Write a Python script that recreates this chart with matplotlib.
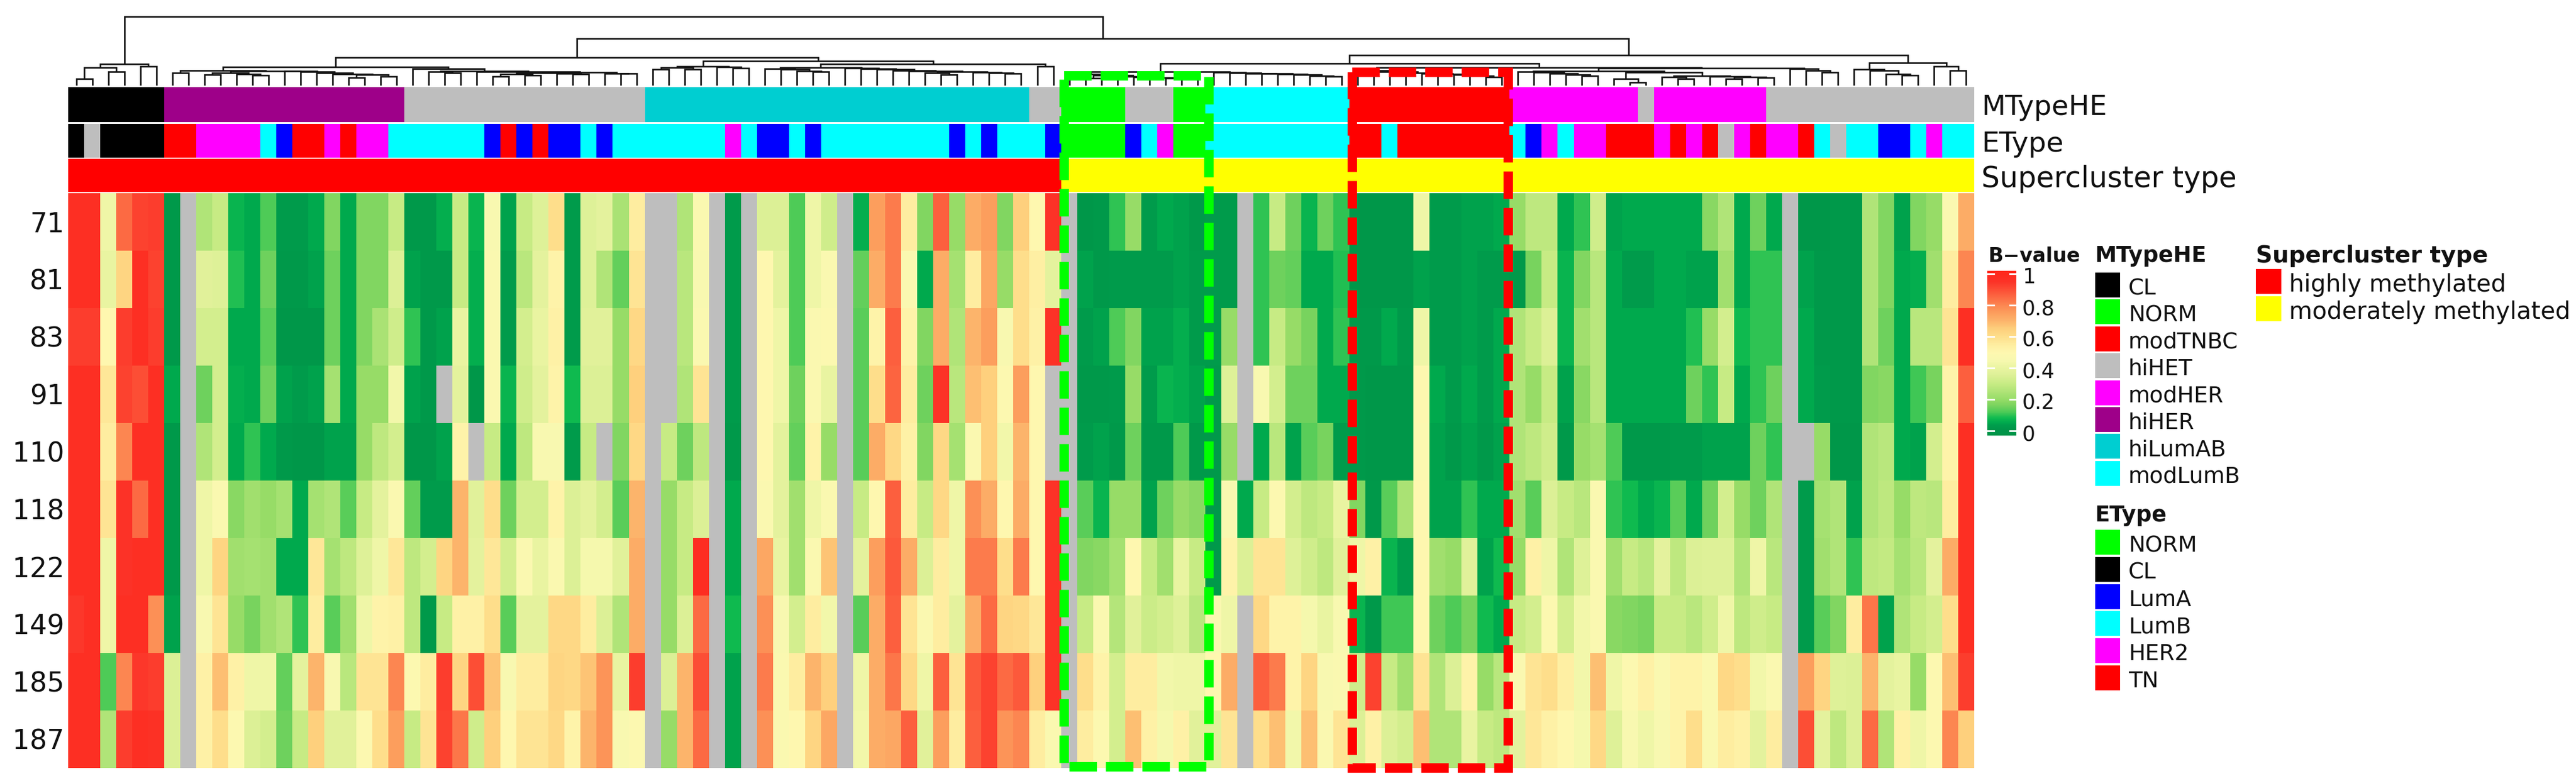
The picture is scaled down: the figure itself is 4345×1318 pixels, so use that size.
import numpy as np
import matplotlib
matplotlib.use('Agg')
import matplotlib.pyplot as plt
from matplotlib.colors import LinearSegmentedColormap, ListedColormap
from matplotlib.patches import Rectangle

W, H = 4345, 1318
G = np.nan

row_labels = ['71', '81', '83', '91', '110', '118', '122', '149', '185', '187']

r71 = [.97,.97,.42,.85,.92,.93,.02,G,.25,.3,
       .07,.05,.12,.03,.03,.05,.17,.05,.17,.17,
       .3,.02,.02,.06,.3,.07,.45,.04,.3,.36,
       .6,.03,.36,.38,.24,.55,G,G,.25,.47,
       G,.03,G,.35,.35,.12,.42,.32,G,.06,
       .75,.82,.55,.17,.87,.2,.72,.75,.17,.65,
       .5,.95,G,.01,.02,.1,.2,.03,.05,.04,
       .02,.03,.03,G,.1,.3,.15,.07,.15,.1,
       .01,.01,.01,.01,.42,.03,.03,.04,.04,.05,
       .2,.28,.28,.05,.1,.32,.04,.05,.05,.05,
       .05,.05,.18,.25,.05,.15,.05,G,.01,.01,
       .02,.02,.25,.17,.04,.17,.2,.47,.72]
r81 = [.97,.97,.4,.63,.97,.92,.02,G,.37,.36,
       .09,.05,.15,.02,.02,.04,.15,.05,.17,.17,
       .35,.04,.02,.02,.3,.06,.47,.03,.27,.38,
       .52,.03,.36,.25,.14,.58,G,G,.27,.45,
       G,.03,G,.5,.38,.12,.42,.47,G,.14,
       .72,.82,.47,.05,.72,.23,.55,.73,.2,.6,
       .54,.38,G,.04,.02,.03,.03,.03,.03,.04,
       .03,.03,.03,G,.1,.15,.14,.05,.05,.09,
       .01,.01,.01,.01,.04,.03,.03,.04,.03,.03,
       .02,.16,.3,.07,.17,.27,.05,.03,.03,.05,
       .05,.04,.04,.22,.05,.1,.1,G,.04,.02,
       .02,.02,.25,.17,.05,.06,.22,.55,.8]
r83 = [.93,.93,.5,.93,.97,.93,.02,G,.33,.33,
       .05,.05,.13,.01,.01,.01,.15,.05,.17,.24,
       .32,.1,.02,.04,.4,.06,.47,.03,.33,.4,
       .53,.03,.37,.37,.2,.62,G,G,.27,.47,
       G,.03,G,.5,.42,.12,.47,.48,G,.13,
       .52,.87,.52,.17,.72,.25,.7,.75,.45,.6,
       .53,.95,G,.03,.04,.12,.17,.04,.04,.06,
       .03,.03,.2,G,.1,.3,.2,.16,.05,.1,
       .02,.02,.05,.02,.42,.03,.03,.04,.03,.05,
       .25,.3,.35,.07,.22,.27,.05,.05,.05,.05,
       .05,.09,.2,.33,.08,.1,.1,G,.05,.02,
       .02,.02,.25,.15,.05,.27,.27,.58,.97]
r91 = [.97,.97,.57,.92,.9,.97,.05,G,.15,.33,
       .06,.05,.15,.04,.03,.04,.23,.05,.2,.2,
       .43,.04,.02,G,.38,.01,.47,.07,.32,.38,
       .52,.08,.35,.35,.2,.65,G,G,.25,.58,
       G,.03,G,.5,.42,.15,.47,.4,G,.13,
       .6,.86,.55,.15,.95,.27,.68,.65,.48,.75,
       .5,G,G,.02,.02,.03,.2,.03,.07,.06,
       .04,.02,.36,G,.45,.33,.15,.15,.05,.05,
       .02,.01,.01,.01,.5,.05,.03,.05,.03,.05,
       .25,.2,.3,.04,.18,.27,.05,.05,.05,.05,
       .05,.15,.1,.3,.05,.1,.15,G,.05,.03,
       .02,.02,.17,.18,.05,.11,.16,.52,.87]
r110 = [.97,.97,.55,.8,.97,.97,.02,G,.25,.33,
        .05,.1,.05,.02,.01,.01,.04,.04,.2,.28,
        .33,.01,.01,.04,.52,G,.3,.05,.28,.45,
        .45,.03,.3,G,.17,.62,G,.3,.15,.28,
        G,.02,G,.5,.38,.14,.52,.2,G,.13,
        .72,.62,.53,.17,.62,.23,.47,.65,.43,.7,
        .5,G,G,.03,.04,.02,.15,.02,.02,.12,
        .02,.02,.2,G,.05,.27,.04,.13,.16,.03,
        .02,.01,.01,.01,.48,.04,.02,.04,.02,.04,
        .25,.28,.32,.02,.2,.23,.12,.02,.02,.02,
        .03,.03,.04,.04,.04,.15,.1,G,G,.2,
        .01,.01,.25,.27,.05,.04,.33,.52,.97]
r118 = [.97,.97,.58,.95,.85,.97,.02,G,.42,.47,
        .18,.22,.2,.23,.05,.23,.25,.13,.3,.38,
        .47,.14,.03,.03,.7,.37,.6,.15,.33,.33,
        .52,.35,.38,.33,.13,.7,G,.2,.3,.35,
        G,.05,G,.47,.38,.22,.42,.47,G,.3,
        .5,.87,.55,.3,.62,.42,.78,.72,.5,.72,
        .5,.95,G,.13,.07,.2,.2,.04,.15,.2,
        .18,.02,.45,.05,.3,.48,.33,.28,.3,.4,
        .17,.02,.13,.24,.5,.04,.04,.1,.05,.05,
        .22,.13,.35,.3,.27,.47,.1,.08,.05,.07,
        .13,.05,.15,.33,.2,.15,.25,G,.03,.23,
        .25,.04,.25,.28,.2,.28,.27,.55,.97]
r122 = [.97,.97,.42,.95,.97,.97,.02,G,.42,.63,
        .22,.23,.22,.05,.05,.57,.23,.28,.36,.42,
        .57,.28,.33,.63,.7,.38,.57,.33,.47,.4,
        .47,.35,.44,.44,.37,.72,G,.2,.3,.98,
        G,.05,G,.73,.4,.22,.47,.67,G,.38,
        .75,.88,.72,.35,.55,.42,.82,.82,.6,.82,
        .5,.95,G,.17,.18,.23,.5,.3,.22,.4,
        .3,.02,.52,.35,.58,.58,.36,.32,.28,.37,
        .42,.53,.07,.03,.5,.22,.2,.37,.04,.08,
        .2,.53,.42,.25,.36,.47,.22,.3,.27,.38,
        .28,.35,.36,.36,.25,.42,.27,G,.03,.22,
        .25,.1,.28,.29,.23,.27,.38,.72,.97]
r149 = [.94,.97,.42,.97,.97,.78,.04,G,.45,.58,
        .2,.16,.22,.25,.1,.55,.13,.22,.42,.52,
        .53,.28,.02,.3,.53,.53,.6,.13,.38,.38,
        .62,.62,.55,.35,.25,.72,G,.2,.35,.85,
        G,.08,G,.78,.45,.33,.55,.43,G,.13,
        .72,.87,.58,.47,.55,.38,.72,.85,.63,.62,
        .57,.95,G,.3,.47,.26,.37,.31,.33,.36,
        .27,.47,.42,G,.62,.52,.52,.44,.4,.45,
        .07,.02,.11,.11,.5,.15,.12,.16,.08,.05,
        .3,.33,.48,.33,.43,.47,.18,.17,.16,.3,
        .3,.27,.32,.42,.28,.32,.3,G,.03,.13,
        .17,.55,.83,.04,.25,.3,.33,.6,.97]
r185 = [.97,.97,.12,.8,.94,.93,.35,G,.53,.68,
        .53,.42,.42,.14,.38,.7,.45,.27,.58,.58,
        .8,.48,.55,.93,.63,.9,.67,.45,.55,.55,
        .63,.62,.67,.77,.4,.93,G,.35,.7,.9,
        G,.04,G,.82,.47,.55,.7,.65,G,.42,
        .72,.83,.62,.42,.87,.58,.88,.92,.85,.88,
        .65,.95,G,.6,.52,.33,.55,.55,.43,.42,
        .42,.5,.72,G,.87,.82,.52,.63,.45,.47,
        .32,.92,.3,.22,.58,.25,.35,.52,.2,.27,
        .47,.58,.6,.54,.43,.68,.42,.48,.53,.47,
        .52,.52,.47,.62,.6,.43,.47,G,.75,.63,
        .36,.35,.7,.38,.4,.2,.48,.68,.93]
r187 = [.97,.97,.25,.93,.97,.96,.35,G,.53,.6,
        .48,.35,.33,.15,.3,.65,.37,.37,.48,.6,
        .75,.3,.58,.92,.83,.32,.65,.5,.58,.58,
        .62,.52,.7,.77,.45,.48,G,.2,.7,.85,
        G,.04,G,.78,.47,.5,.63,.73,G,.43,
        .72,.73,.87,.37,.75,.55,.87,.92,.77,.8,
        .55,.47,G,.55,.48,.33,.68,.53,.44,.53,
        .37,.37,.58,G,.6,.68,.43,.68,.47,.58,
        .35,.53,.35,.33,.68,.25,.25,.4,.3,.28,
        .38,.57,.53,.5,.44,.62,.36,.45,.42,.45,
        .52,.6,.47,.55,.53,.38,.55,G,.9,.38,
        .28,.35,.85,.25,.53,.42,.48,.8,.65]

# annotation tracks, run length encoded as (label, number of columns)
mtype_runs = [('CL',6),('hiHER',15),('hiHET',15),('hiLumAB',24),('hiHET',2),('NORM',4),
              ('hiHET',3),('NORM',2),('modLumB',9),('modTNBC',10),('modHER',8),('hiHET',1),
              ('modHER',7),('hiHET',13)]
etype_runs = [('CL',1),('grey',1),('CL',4),('TN',2),('HER2',4),('LumB',1),('LumA',1),('TN',2),
              ('HER2',1),('TN',1),('HER2',2),('LumB',6),('LumA',1),('TN',1),('LumA',1),('TN',1),
              ('LumA',2),('LumB',1),('LumA',1),('LumB',7),('HER2',1),('LumB',1),('LumA',2),
              ('LumB',1),('LumA',1),('LumB',8),('LumA',1),('LumB',1),('LumA',1),('LumB',3),
              ('LumA',1),('NORM',4),('LumA',1),('LumB',1),('HER2',1),('NORM',2),('LumB',9),
              ('TN',2),('LumB',1),('TN',7),('LumB',1),('LumA',1),('HER2',1),('LumB',1),
              ('HER2',2),('TN',3),('HER2',1),('TN',1),('HER2',1),('TN',1),('grey',1),('HER2',1),
              ('TN',1),('HER2',2),('TN',1),('LumB',1),('grey',1),('LumB',2),('LumA',2),
              ('LumB',1),('HER2',1),('LumB',2)]
super_runs = [('highly methylated',62),('moderately methylated',57)]

mtype_names = ['CL','NORM','modTNBC','hiHET','modHER','hiHER','hiLumAB','modLumB']
mtype_colors = ['#000000','#00FF00','#FF0000','#BEBEBE','#FF00FF','#9E0089','#00CED1','#00FFFF']
etype_names = ['NORM','CL','LumA','LumB','HER2','TN']
etype_colors = ['#00FF00','#000000','#0000FF','#00FFFF','#FF00FF','#FF0000']
super_names = ['highly methylated','moderately methylated']
super_colors = ['#FF0000','#FFFF00']

# dendrogram merges: (height, left, right), ints are column numbers
cl_node = (35.7,(30,(10.7,0,1),(23.3,2,3)),(32,4,5))
pur_y = (20.7,(18,8,9),(19.3,10,(17.3,11,12)))
pur_z = (23.7,13,(23,14,(21,15,(19.3,16,(17.7,(13.3,17,18),(14.7,19,20))))))
pur_node = (24.7,(21.3,6,7),(24,pur_y,pur_z))
gr_r = (22.3,(20.7,(18.7,(14.7,26,27),(16.7,28,29)),(20,30,(19,31,32))),(20.3,33,(20,34,35)))
gr_node = (28,21,(24.3,(22.7,22,(21.3,23,24)),(23,25,gr_r)))
lum_a = (32.3,(30,(26.7,36,37),(27.3,38,39)),(30.7,40,(29,41,42)))
lum_b1 = (28,43,(26.7,44,(24,45,(23.3,46,47))))
lum_tail = (23,(20.7,53,(18.3,54,55)),(22,56,(21,57,(19.6,58,59))))
lum_b2 = (29,48,(28,49,(26.7,50,(25.3,51,(24,52,lum_tail)))))
lum_node = (41.3,lum_a,(35.7,(30,lum_b1,lum_b2),(32,60,61)))
left_node = (46.7,(31.3,pur_node,gr_node),lum_node)
norm_node = (23.3,(18.7,62,(16.7,(11.7,63,64),(14.7,65,(14,66,(13.3,67,(12.3,68,(11.7,69,70))))))),
             (21.7,71,(21,72,(20.3,73,(19.7,74,(19,75,(18,76,(16,77,(14.7,78,79)))))))))
red_node = (24.7,80,(23.3,81,(20.7,(18,82,83),(20,84,(19,85,(18,86,(15.7,87,(14,88,89))))))))
her_node = (22.7,90,(22,91,(20,92,(18,93,(15.7,94,95)))))
tr_node = (11.3,96,(4.7,97,98))
s_node = (15.7,(14,99,(10.7,100,101)),(14.7,102,(14,(11.3,103,104),(13.3,105,106))))
m1_node = (24,her_node,(21.7,tr_node,s_node))
k107_node = (28,107,(24.7,108,(21.7,109,110)))
c1_node = (36.7,norm_node,(30,red_node,(29,m1_node,k107_node)))
c2_node = (38,(26.7,111,(25.3,112,(19,113,(16.7,114,115)))),(32.3,116,(24.7,117,118)))
root = (116,cl_node,(79,left_node,(51,c1_node,c2_node)))

heat = np.array([r71,r81,r83,r91,r110,r118,r122,r149,r185,r187])
n_rows, n_cols = heat.shape
assert n_cols == 119

cmap_stops = [(0,'#009549'),(.03,'#009C4C'),(.05,'#00AA4E'),(.08,'#10BB50'),(.12,'#50CC58'),
              (.16,'#7AD45F'),(.2,'#98DD68'),(.25,'#B0E478'),(.3,'#C8EC85'),(.35,'#DCF096'),
              (.4,'#EAF5A2'),(.45,'#F8F9B0'),(.5,'#FFF8B0'),(.55,'#FEEDA0'),(.6,'#FEDF8C'),
              (.65,'#FED07D'),(.7,'#FDB56C'),(.75,'#FC9F5E'),(.8,'#FC8752'),(.85,'#FC6B44'),
              (.9,'#FC4F36'),(.95,'#FC3328'),(1,'#FF2A1E')]
cmap = LinearSegmentedColormap.from_list('bvalue', cmap_stops, N=512)
cmap.set_bad('#BEBEBE')

HEAT_X0, HEAT_X1 = 115, 3330
col_w = (HEAT_X1 - HEAT_X0) / n_cols
TEXT_SHIFT = 6  # labels sit a little lower than matplotlib's centre

fig = plt.figure(figsize=(W/100, H/100), dpi=100)
fig.patch.set_facecolor('white')


def px_axes(x0, y0, x1, y1):
    ax = fig.add_axes([x0/W, 1-y1/H, (x1-x0)/W, (y1-y0)/H])
    ax.set_axis_off()
    return ax


def expand(runs):
    out = []
    for name, n in runs:
        out += [name]*n
    return out


def draw_track(y0, y1, runs, names, colors):
    ax = px_axes(HEAT_X0, y0, HEAT_X1, y1)
    all_names = names + ['grey']
    all_colors = colors + ['#BEBEBE']
    idx = [all_names.index(v) for v in expand(runs)]
    ax.imshow(np.array(idx)[None, :], aspect='auto', interpolation='nearest',
              cmap=ListedColormap(all_colors), vmin=-.5, vmax=len(all_colors)-.5)


# heatmap
ax_heat = px_axes(HEAT_X0, 326, HEAT_X1, 1296)
ax_heat.imshow(np.ma.masked_invalid(heat), aspect='auto', interpolation='nearest', cmap=cmap, vmin=0, vmax=1)
for i, lab in enumerate(row_labels):
    ax_heat.text(-.75, i+.05, lab, ha='right', va='center', fontsize=33, color='#111111', clip_on=False)

# annotation bars
draw_track(147, 206, mtype_runs, mtype_names, mtype_colors)
draw_track(209, 266.5, etype_runs, etype_names, etype_colors)
draw_track(268, 324.5, super_runs, super_names, super_colors)

# dendrogram
ax_den = px_axes(HEAT_X0, 20, HEAT_X1, 144)
ax_den.set_xlim(-.5, n_cols-.5)
ax_den.set_ylim(0, 124)


def draw_node(node):
    if isinstance(node, int):
        return node, 0
    h, left, right = node
    xl, hl = draw_node(left)
    xr, hr = draw_node(right)
    ax_den.plot([xl, xl, xr, xr], [hl, h, h, hr], color='#111111', lw=1.9,
                solid_joinstyle='miter', solid_capstyle='butt', clip_on=False)
    return (xl+xr)/2, h


draw_node(root)

# overlay in pixel coordinates for labels, legends and the dashed boxes
ov = fig.add_axes([0, 0, 1, 1], zorder=10)
ov.set_xlim(0, W)
ov.set_ylim(H, 0)
ov.set_axis_off()
ov.patch.set_alpha(0)


def col_px(c):
    return HEAT_X0 + c*col_w


dash = (0, (2.9, .95))
ov.add_patch(Rectangle((col_px(62.2), 127.5), col_px(71.2)-col_px(62.2), 1293.5-127.5, fill=False,
                       ec='#00FF00', lw=11.5, ls=dash, capstyle='butt'))
ov.add_patch(Rectangle((col_px(80.16), 121.5), col_px(89.9)-col_px(80.16), 1296-121.5, fill=False,
                       ec='#FF0000', lw=11.5, ls=dash, capstyle='butt'))

for lab, y, fs in zip(['MTypeHE', 'EType', 'Supercluster type'], [176, 238, 296], [33.5, 34, 35]):
    ov.text(3342, y+TEXT_SHIFT, lab, ha='left', va='center', fontsize=fs, color='#111111')

# colour bar
ax_cb = px_axes(3352, 457, 3401, 735)
grad = np.linspace(1.019, -.03, 300)[:, None]
ax_cb.imshow(grad, aspect='auto', cmap=cmap, vmin=0, vmax=1, extent=(0, 1, -.03, 1.019))
ax_cb.set_xlim(0, 1)
ax_cb.set_ylim(-.03, 1.019)
cb_ticks = [0, .2, .4, .6, .8, 1]
cb_labels = ['0', '0.2', '0.4', '0.6', '0.8', '1']
for t in cb_ticks:
    ax_cb.plot([0, .22], [t, t], color='white', lw=2)
    ax_cb.plot([.78, 1], [t, t], color='white', lw=2)
for t, lab in zip(cb_ticks, cb_labels):
    ov.text(3411, 727-265*t+TEXT_SHIFT, lab, ha='left', va='center', fontsize=25, color='#111111')
ov.text(3354, 426+TEXT_SHIFT, 'B\u2212value', ha='left', va='center', fontsize=24, fontweight='bold', color='#111111')


def draw_legend(x, y_title, y_first, step, sw_h, sw_w, names, colors, title, title_size, size, gap):
    ov.text(x, y_title+TEXT_SHIFT, title, ha='left', va='center', fontsize=title_size, fontweight='bold', color='#111111')
    for i, (name, col) in enumerate(zip(names, colors)):
        y = y_first + step*i
        ov.add_patch(Rectangle((x, y), sw_w, sw_h, fc=col, ec='none'))
        ov.text(x+sw_w+gap, y+sw_h/2+TEXT_SHIFT, name, ha='left', va='center', fontsize=size, color='#111111')


draw_legend(3534, 426, 460, 45.4, 42, 42, mtype_names, mtype_colors, 'MTypeHE', 26.5, 27, 14)
draw_legend(3534, 863, 894, 45.8, 42, 42, etype_names, etype_colors, 'EType', 26.5, 27, 14)
draw_legend(3805, 426, 454, 46, 42, 43, super_names, super_colors, 'Supercluster type', 28, 29, 13)

fig.savefig('out.png', dpi=100)
